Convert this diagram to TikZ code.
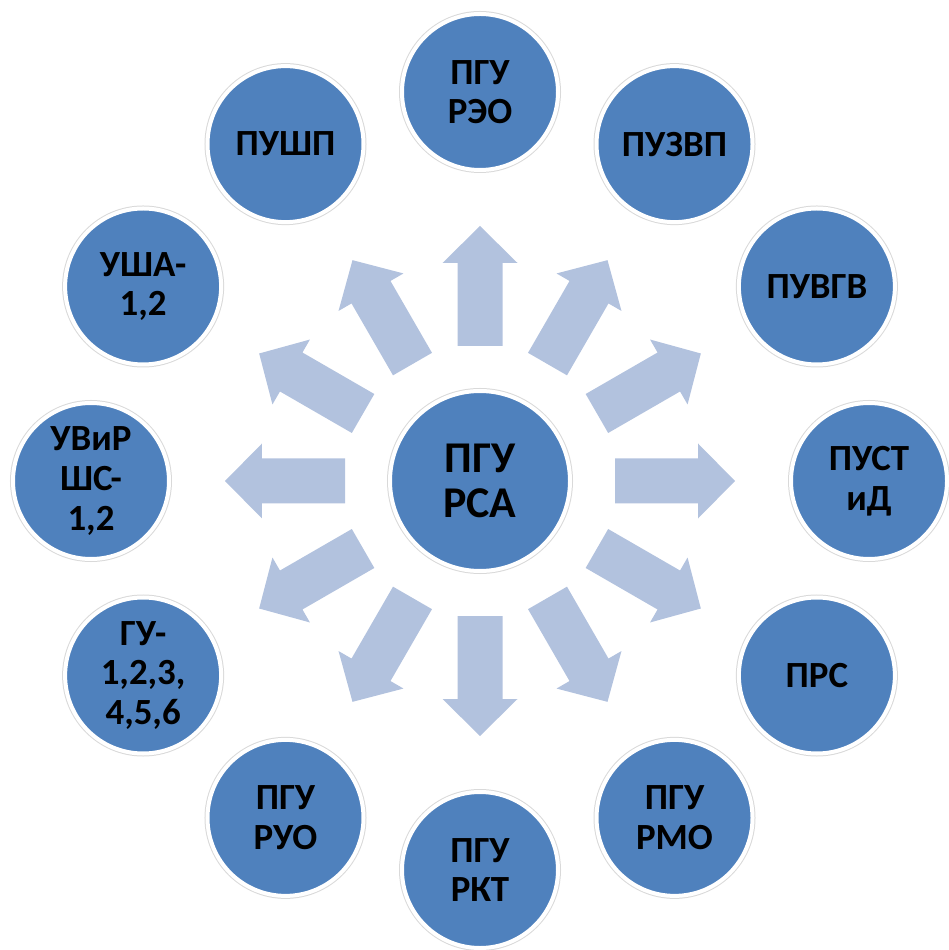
\documentclass[tikz,border=0pt]{standalone}
\usepackage{fontspec}
\setmainfont{Carlito}
\definecolor{krug}{RGB}{79,129,189}
\definecolor{strelka}{RGB}{178,194,222}
\tikzset{
    krugnode/.style={circle, fill=krug, draw=white, line width=0.8mm,
        preaction={draw=black!15, line width=1.2mm},
        minimum size=31.2mm, inner sep=0pt, align=center,
        font=\bfseries\fontsize{21}{22.5}\selectfont},
    strelkafill/.style={fill=strelka}
}
\begin{document}
\begin{tikzpicture}[x=0.2mm, y=0.2mm]
    \useasboundingbox (-480,-469) rectangle (468,481);
    \node[krugnode, minimum size=36mm, font=\bfseries\fontsize{25}{26}\selectfont] (rsa) at (0,0) {ПГУ\\РСА};
    \foreach \a in {0,30,...,330}
        \fill[strelkafill, rotate=\a] (135,-22.5) -- (218,-22.5) -- (218,-37.5) -- (255,0) -- (218,37.5) -- (218,22.5) -- (135,22.5) -- cycle;
    \node[krugnode] (reo) at (90:389) {ПГУ\\РЭО};
    \node[krugnode] (uzvp) at (60:389) {ПУЗВП};
    \node[krugnode] (uvgv) at (30:389) {ПУВГВ};
    \node[krugnode] (ustid) at (0:389) {ПУСТ\\иД};
    \node[krugnode] (prs) at (-30:389) {ПРС};
    \node[krugnode] (rmo) at (-60:389) {ПГУ\\РМО};
    \node[krugnode] (rkt) at (-90:389) {ПГУ\\РКТ};
    \node[krugnode] (ruo) at (-120:389) {ПГУ\\РУО};
    \node[krugnode] (gu) at (-150:389) {ГУ-\\1,2,3,\\4,5,6};
    \node[krugnode] (uvir) at (180:389) {УВиР\\ШС-\\1,2};
    \node[krugnode] (usha) at (150:389) {УША-\\1,2};
    \node[krugnode] (ushp) at (120:389) {ПУШП};
\end{tikzpicture}
\end{document}
